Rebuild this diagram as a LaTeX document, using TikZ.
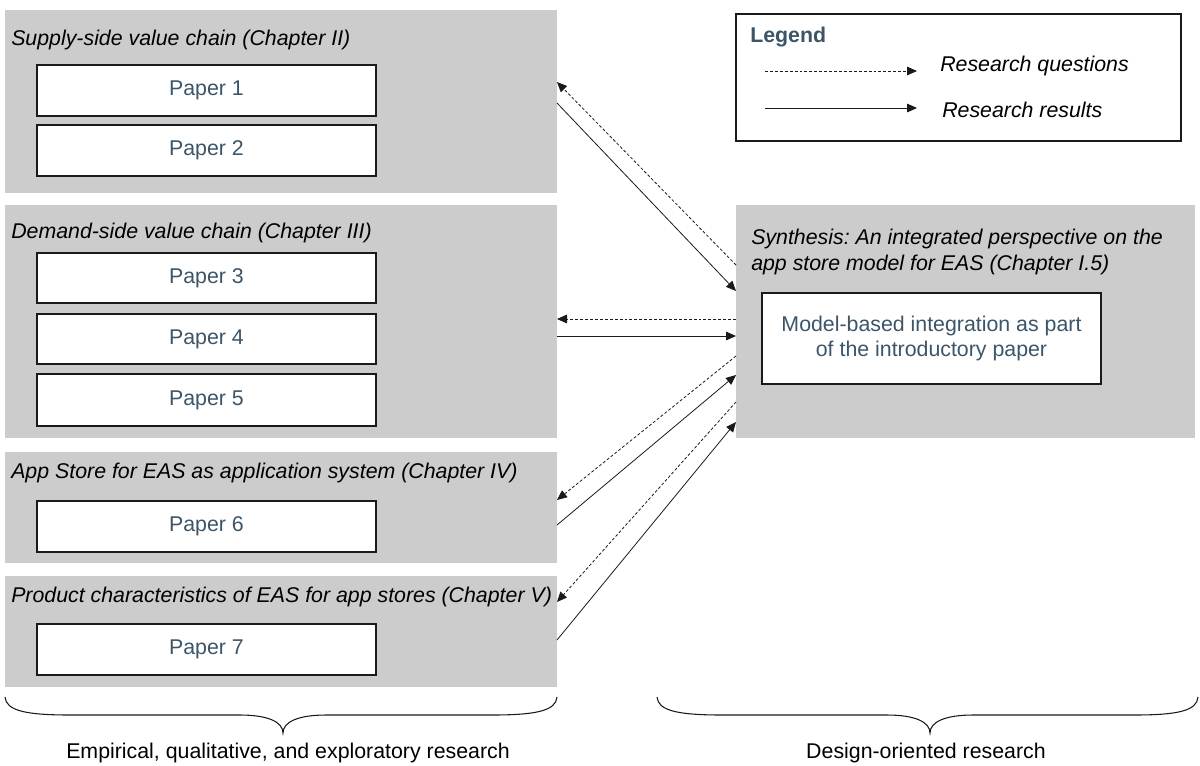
\documentclass[tikz,border=0pt]{standalone}
\usepackage{fontspec}
\setmainfont{Liberation Sans}
\frenchspacing
\usetikzlibrary{arrows.meta,fit,calc}
\definecolor{panelgray}{HTML}{CCCCCC}
\definecolor{papertext}{HTML}{3C5568}
\definecolor{inkline}{HTML}{1A1A1A}
\begin{document}
\begin{tikzpicture}[
  x=0.75pt, y=-0.75pt,
  font=\fontsize{16}{19}\selectfont,
  panel/.style={fill=panelgray, draw=none, inner sep=0pt, outer sep=0pt},
  paper/.style={fill=white, draw=inkline, line width=1.1pt, inner sep=0pt, outer sep=0pt,
    text=papertext, align=center, minimum width={339*0.75pt}, minimum height={51*0.75pt}},
  chaptitle/.style={anchor=west, inner sep=0pt, font=\fontsize{16}{19}\selectfont\itshape, text=black},
  legendbox/.style={fill=white, draw=inkline, line width=0.9pt, inner sep=0pt},
  tipstyle/.tip={Triangle[length=7.5pt, width=6.5pt]},
  rq/.style={-tipstyle, draw=inkline, line width=0.6pt, dash pattern=on 2.2pt off 1.5pt},
  rr/.style={-tipstyle, draw=inkline, line width=0.6pt},
  bracestyle/.style={draw=inkline, line width=0.8pt},
]
\useasboundingbox (0,0) rectangle (1200,765);

% chapter panels on the left
\node[panel, fit={(5,10)(557,193)}] (ch2) {};
\node[panel, fit={(5,205)(557,438)}] (ch3) {};
\node[panel, fit={(5,452)(557,563)}] (ch4) {};
\node[panel, fit={(5,576)(557,687)}] (ch5) {};

\node[chaptitle] (t2) at (11,40) {Supply-side value chain (Chapter II)};
\node[chaptitle] (t3) at (11,233) {Demand-side value chain (Chapter III)};
\node[chaptitle] (t4) at (11,473) {App Store for EAS as application system (Chapter IV)};
\node[chaptitle] (t5) at (11,597) {Product characteristics of EAS for app stores (Chapter V)};

% papers
\node[paper] (p1) at (206.5,90.5) {Paper 1};
\node[paper] (p2) at (206.5,150.5) {Paper 2};
\node[paper, minimum height={50*0.75pt}] (p3) at (206.5,278) {Paper 3};
\node[paper, minimum height={50*0.75pt}] (p4) at (206.5,339) {Paper 4};
\node[paper, minimum height={52*0.75pt}] (p5) at (206.5,400) {Paper 5};
\node[paper] (p6) at (206.5,526.5) {Paper 6};
\node[paper] (p7) at (206.5,649.5) {Paper 7};

% synthesis panel on the right
\node[panel, fit={(736,205)(1195,438)}] (syn) {};
\node[chaptitle, align=left] (tsyn) at (751,252) {Synthesis: An integrated perspective on the\\app store model for EAS (Chapter I.5)};
\node[paper, minimum height={91*0.75pt}] (intro) at (931.5,338.5) {Model-based integration as part\\of the introductory paper};

% legend
\node[legendbox, fit={(736,14)(1181,141)}] (legend) {};
\node[anchor=west, inner sep=0pt, text=papertext, font=\fontsize{16}{19}\selectfont\bfseries] (lgtitle) at (750,37) {Legend};
\coordinate (lq1) at (765,71);
\coordinate (lq2) at (917,71);
\coordinate (lr1) at (765,108);
\coordinate (lr2) at (917,108);
\draw[rq] (lq1) -- (lq2);
\draw[rr] (lr1) -- (lr2);
\node[chaptitle] (lqtext) at (940,66) {Research questions};
\node[chaptitle] (lrtext) at (942,110) {Research results};

% research questions and results between the chapters and the synthesis
\draw[rq] ($(syn.north west)+(0,60)$) -- ($(ch2.north east)+(0,72)$);
\draw[rr] ($(ch2.north east)+(0,93)$) -- ($(syn.north west)+(0,86)$);
\draw[rq] ($(syn.north west)+(0,114)$) -- ($(ch3.north east)+(0,114)$);
\draw[rr] ($(ch3.north east)+(0,131)$) -- ($(syn.north west)+(0,131)$);
\draw[rq] ($(syn.north west)+(0,151)$) -- ($(ch4.north east)+(0,48)$);
\draw[rr] ($(ch4.north east)+(0,73)$) -- ($(syn.north west)+(0,170)$);
\draw[rq] ($(syn.north west)+(0,197)$) -- ($(ch5.north east)+(0,26)$);
\draw[rr] ($(ch5.north east)+(0,64)$) -- ($(syn.north west)+(0,217)$);

% braces
\draw[bracestyle] (5,697) .. controls (6,711) and (27,715) .. (70,715) -- (240,715)
  .. controls (268,715) and (283,722) .. (283,733)
  .. controls (283,722) and (298,715) .. (326,715) -- (492,715)
  .. controls (535,715) and (556,711) .. (557,697);
\draw[bracestyle] (657,697) .. controls (658,711) and (679,715) .. (722,715) -- (887,715)
  .. controls (915,715) and (930,722) .. (930,733)
  .. controls (930,722) and (945,715) .. (973,715) -- (1134,715)
  .. controls (1177,715) and (1197,711) .. (1198,697);

\node[inner sep=0pt] (lab1) at (288,753) {Empirical, qualitative, and exploratory research};
\node[inner sep=0pt] (lab2) at (926,753) {Design-oriented research};
\end{tikzpicture}
\end{document}
